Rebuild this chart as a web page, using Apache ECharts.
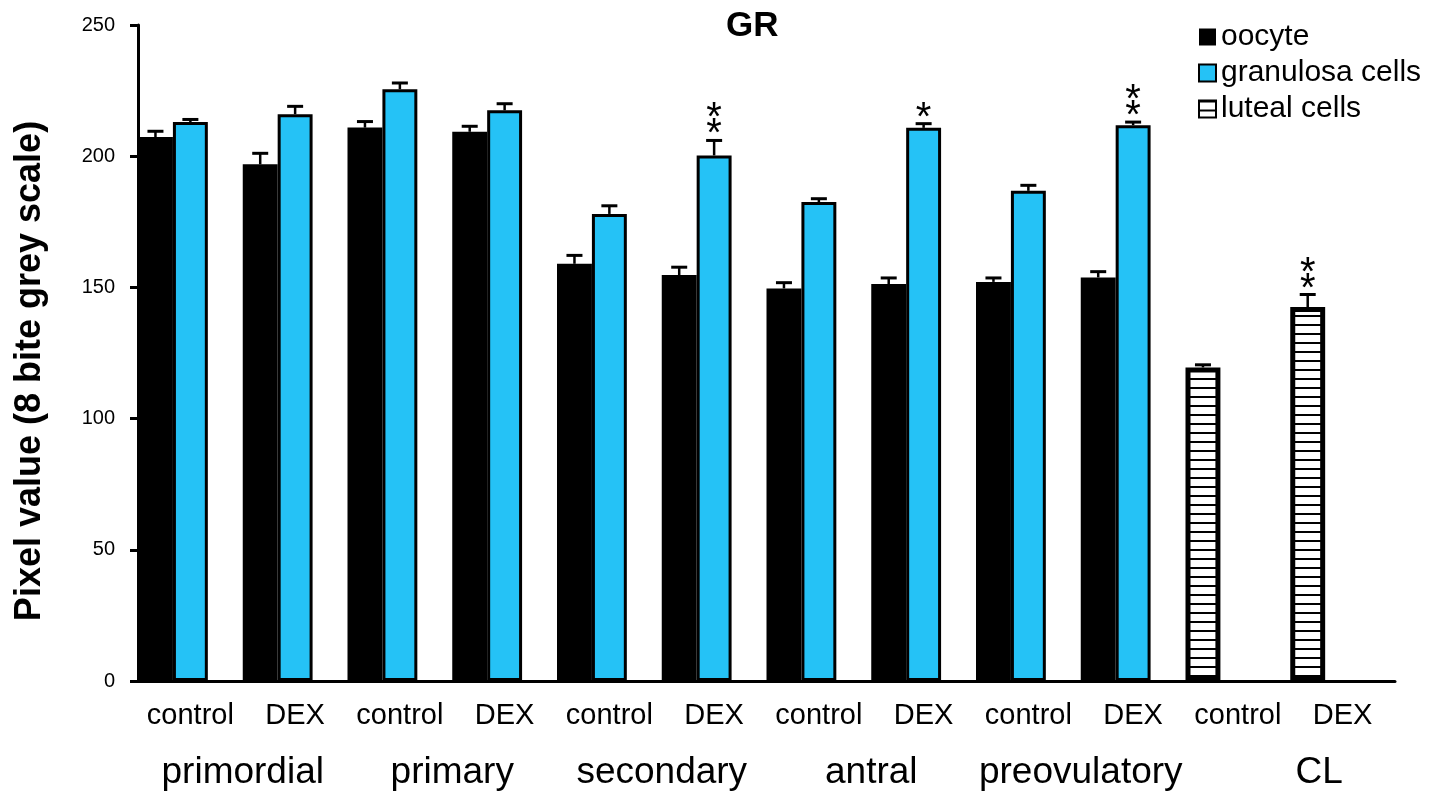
<!DOCTYPE html>
<html>
<head>
<meta charset="utf-8">
<script src="https://cdn.jsdelivr.net/npm/echarts@6/dist/echarts.min.js"></script>
<style>
html,body{margin:0;padding:0;background:#fff;}
#chart{width:1442px;height:795px;}
</style>
</head>
<body>
<div id="chart"></div>
<script>
const categories = ['control','DEX','control','DEX','control','DEX','control','DEX','control','DEX','control','DEX'];
const groups = ['primordial','primary','secondary','antral','preovulatory','CL'];
const oocyte =       [207.3, 196.9, 210.9, 209.3, 159.0, 154.7, 149.6, 151.3, 152.1, 153.8, '-', '-'];
const oocyteErr =    [2.2, 4.2, 2.3, 2.1, 3.2, 3.0, 2.2, 2.3, 1.5, 2.2, '-', '-'];
const granulosa =    [213.0, 216.0, 225.5, 217.5, 178.0, 200.3, 182.5, 210.8, 186.8, 211.8, '-', '-'];
const granulosaErr = [1.0, 3.0, 2.4, 2.5, 3.1, 5.7, 1.3, 1.6, 2.1, 1.2, '-', '-'];
const luteal =       ['-', '-', '-', '-', '-', '-', '-', '-', '-', '-', 119.5, 142.5];
const lutealErr =    ['-', '-', '-', '-', '-', '-', '-', '-', '-', '-', 1.0, 4.8];
const granulosaStars = ['', '', '', '', '', '**', '', '*', '', '**', '', ''];
const lutealStars =    ['', '', '', '', '', '', '', '', '', '', '', '**'];
const yMin = 0, yMax = 250, yInterval = 50;

const FONT = "'Liberation Sans', Arial, sans-serif";

// stripe pattern for luteal cells
const pc = document.createElement('canvas');
pc.width = 4; pc.height = 9;
const pctx = pc.getContext('2d');
pctx.fillStyle = '#fff'; pctx.fillRect(0, 0, 4, 9);
pctx.fillStyle = '#000'; pctx.fillRect(0, 0, 4, 2);
const stripe = { image: pc, repeat: 'repeat' };

const errData = [];
for (let i = 0; i < categories.length; i++) {
  if (typeof oocyte[i] === 'number') errData.push([i, oocyte[i], oocyteErr[i], -1, 0]);
  if (typeof granulosa[i] === 'number') errData.push([i, granulosa[i], granulosaErr[i], 0, granulosaStars[i].length]);
  if (typeof luteal[i] === 'number') errData.push([i, luteal[i], lutealErr[i], -1, lutealStars[i].length]);
}

const chart = echarts.init(document.getElementById('chart'));
chart.setOption({
  animation: false,
  backgroundColor: '#fff',
  title: {
    text: 'GR', left: 721, top: 4,
    textStyle: { fontFamily: FONT, fontSize: 35, fontWeight: 'bold', color: '#000' }
  },
  legend: {
    orient: 'vertical', left: 1193, top: 17,
    data: ['oocyte', 'granulosa cells', 'luteal cells'],
    icon: 'rect',
    itemWidth: 17, itemHeight: 17, itemGap: 6,
    textStyle: { fontFamily: FONT, fontSize: 30, color: '#000' }
  },
  grid: { left: 138, right: 47, top: 25, bottom: 114, containLabel: false, outerBoundsMode: 'none' },
  xAxis: [{
    type: 'category', data: categories,
    axisLine: { lineStyle: { color: '#000', width: 3 } },
    axisTick: { show: false },
    axisLabel: { color: '#000', fontFamily: FONT, fontSize: 29, margin: 20, interval: 0 }
  }, {
    type: 'category', data: groups, position: 'bottom',
    axisLine: { show: false }, axisTick: { show: false },
    axisLabel: {
      color: '#000', fontFamily: FONT, fontSize: 37, margin: 73, interval: 0,
      formatter: function (v) { return v === 'CL' ? '{cl|' + v + '}' : v; },
      rich: { cl: { fontFamily: FONT, fontSize: 37, color: '#000', padding: [0, 0, 0, 58] } }
    }
  }],
  yAxis: {
    type: 'value', min: yMin, max: yMax, interval: yInterval,
    name: 'Pixel value (8 bite grey scale)', nameLocation: 'middle', nameGap: 90,
    nameTextStyle: { fontFamily: FONT, fontSize: 36, fontWeight: 'bold', color: '#000', padding: [0, 36, 0, 0] },
    axisLine: { show: true, lineStyle: { color: '#000', width: 3 } },
    axisTick: { show: true, length: 8, lineStyle: { color: '#000', width: 3 } },
    axisLabel: { color: '#000', fontFamily: FONT, fontSize: 20, margin: 23 },
    splitLine: { show: false }
  },
  series: [{
    name: 'oocyte', type: 'bar', stack: 's1', data: oocyte,
    barGap: '0%', barCategoryGap: '0%',
    itemStyle: { color: '#000' }
  }, {
    name: 'granulosa cells', type: 'bar', data: granulosa,
    barGap: '0%', barCategoryGap: '0%',
    itemStyle: { color: '#25C2F6', borderColor: '#000', borderWidth: 3 }
  }, {
    name: 'gap', type: 'bar', data: categories.map(() => '-'),
    barGap: '0%', barCategoryGap: '0%'
  }, {
    name: 'luteal cells', type: 'bar', stack: 's1', data: luteal,
    barGap: '0%', barCategoryGap: '0%',
    itemStyle: { color: stripe, borderColor: '#000', borderWidth: 5 }
  }, {
    name: 'err', type: 'custom', data: errData, z: 10, clip: false,
    encode: { x: 0, y: 1 },
    renderItem: function (params, api) {
      const i = api.value(0), v = api.value(1), e = api.value(2), slot = api.value(3), n = api.value(4);
      const w = api.size([1, 0])[0];
      const base = api.coord([i, v]);
      const top = api.coord([i, v + e]);
      const x = base[0] + slot * w / 3;
      const children = [
        { type: 'line', shape: { x1: x, y1: base[1], x2: x, y2: top[1] }, style: { stroke: '#000', lineWidth: 2.5 } },
        { type: 'line', shape: { x1: x - 8, y1: top[1], x2: x + 8, y2: top[1] }, style: { stroke: '#000', lineWidth: 3 } }
      ];
      for (let k = 0; k < n; k++) {
        children.push({
          type: 'text',
          style: { text: '*', x: x, y: top[1] - 5 - k * 16, align: 'center', verticalAlign: 'middle',
                   fontFamily: FONT, fontSize: 40, fill: '#000' }
        });
      }
      return { type: 'group', children: children };
    }
  }]
});
</script>
</body>
</html>
